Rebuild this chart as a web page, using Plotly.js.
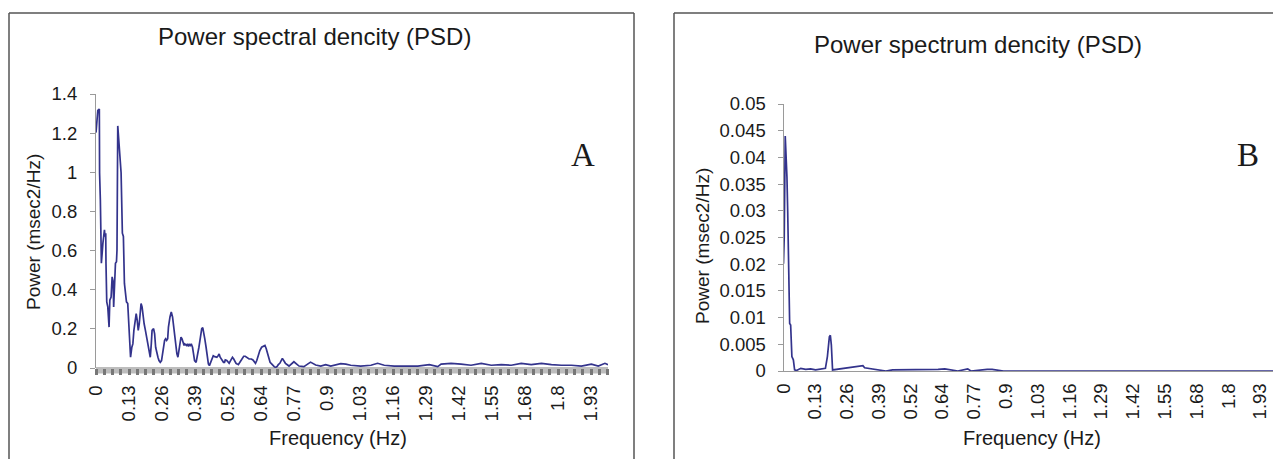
<!DOCTYPE html>
<html>
<head>
<meta charset="utf-8">
<script src="https://cdn.plot.ly/plotly-3.0.1.min.js"></script>
<style>
  html, body { margin: 0; padding: 0; background: #ffffff; }
  #chart { width: 1273px; height: 459px; }
</style>
</head>
<body>
<div id="chart"></div>
<script>
// ---------- DATA ----------
// Panel A : Power spectral dencity (PSD)
const freqA = [
  0, 0.003, 0.007, 0.010, 0.013, 0.014, 0.017, 0.021, 0.024, 0.027,
  0.030, 0.033, 0.035, 0.038, 0.039, 0.042, 0.046, 0.048, 0.051, 0.054,
  0.059, 0.063, 0.067, 0.069, 0.072, 0.076, 0.080, 0.082, 0.085, 0.089,
  0.093, 0.098, 0.103, 0.107, 0.111, 0.115, 0.119, 0.124, 0.128, 0.132,
  0.135, 0.140, 0.144, 0.148, 0.153, 0.157, 0.161, 0.165, 0.169, 0.172,
  0.176, 0.180, 0.184, 0.188, 0.193, 0.197, 0.202, 0.208, 0.212, 0.216,
  0.219, 0.225, 0.229, 0.233, 0.238, 0.242, 0.246, 0.251, 0.256, 0.260,
  0.264, 0.268, 0.272, 0.276, 0.280, 0.283, 0.289, 0.294, 0.299, 0.303,
  0.307, 0.311, 0.316, 0.320, 0.324, 0.328, 0.332, 0.336, 0.340, 0.344,
  0.347, 0.353, 0.357, 0.361, 0.364, 0.368, 0.372, 0.377, 0.381, 0.385,
  0.391, 0.394, 0.398, 0.402, 0.408, 0.413, 0.417, 0.421, 0.425, 0.430,
  0.434, 0.439, 0.443, 0.448, 0.453, 0.458, 0.464, 0.468, 0.472, 0.477,
  0.481, 0.485, 0.490, 0.494, 0.498, 0.502, 0.505, 0.511, 0.516, 0.520,
  0.524, 0.529, 0.533, 0.538, 0.542, 0.547, 0.551, 0.556, 0.562, 0.567,
  0.572, 0.577, 0.583, 0.588, 0.593, 0.598, 0.602, 0.607, 0.613, 0.618,
  0.623, 0.628, 0.633, 0.640, 0.647, 0.653, 0.660, 0.665, 0.670, 0.675,
  0.680, 0.686, 0.691, 0.696, 0.701, 0.707, 0.712, 0.718,
  0.728, 0.740, 0.754, 0.773, 0.793, 0.812, 0.838, 0.858, 0.878, 0.897,
  0.917, 0.956, 0.976, 0.995, 1.034, 1.074, 1.100, 1.126, 1.165, 1.204,
  1.257, 1.302, 1.335, 1.348, 1.387, 1.426, 1.465, 1.505, 1.544, 1.583,
  1.622, 1.661, 1.700, 1.740, 1.779, 1.818, 1.857, 1.896, 1.935, 1.962,
  1.988, 2.000
];
const powerA = [
  1.203, 1.263, 1.315, 1.320, 1.323, 0.998, 0.860, 0.535, 0.629, 0.638,
  0.672, 0.706, 0.672, 0.689, 0.535, 0.338, 0.312, 0.226, 0.209, 0.346,
  0.363, 0.466, 0.441, 0.312, 0.398, 0.535, 0.543, 0.603, 1.237, 1.169,
  1.118, 0.998, 0.689, 0.672, 0.432, 0.381, 0.338, 0.329, 0.243, 0.123,
  0.055, 0.106, 0.123, 0.192, 0.243, 0.278, 0.243, 0.192, 0.226, 0.261,
  0.329, 0.312, 0.261, 0.226, 0.192, 0.158, 0.123, 0.089, 0.055, 0.123,
  0.192, 0.201, 0.175, 0.106, 0.072, 0.055, 0.038, 0.029, 0.038, 0.072,
  0.123, 0.141, 0.149, 0.141, 0.149, 0.209, 0.261, 0.286, 0.261, 0.209,
  0.158, 0.106, 0.072, 0.055, 0.089, 0.123, 0.158, 0.149, 0.132, 0.115,
  0.123, 0.115, 0.123, 0.110, 0.123, 0.115, 0.123, 0.106, 0.072, 0.038,
  0.029, 0.046, 0.081, 0.106, 0.158, 0.201, 0.206, 0.183, 0.149, 0.106,
  0.055, 0.021, 0.012, 0.029, 0.055, 0.063, 0.058, 0.055, 0.055, 0.063,
  0.072, 0.055, 0.046, 0.038, 0.029, 0.029, 0.041, 0.038, 0.029, 0.024,
  0.034, 0.046, 0.055, 0.046, 0.034, 0.024, 0.021, 0.017, 0.029, 0.041,
  0.055, 0.060, 0.060, 0.055, 0.050, 0.046, 0.046, 0.046, 0.041, 0.029,
  0.024, 0.038, 0.063, 0.089, 0.106, 0.110, 0.115, 0.098, 0.072, 0.046,
  0.029, 0.021, 0.012, 0.007, 0.003, 0.007, 0.017, 0.024,
  0.049, 0.024, 0.010, 0.032, 0.010, 0.007, 0.030, 0.015, 0.010, 0.017,
  0.010, 0.022, 0.020, 0.014, 0.010, 0.014, 0.024, 0.014, 0.010, 0.010,
  0.010, 0.017, 0.007, 0.020, 0.024, 0.020, 0.014, 0.024, 0.014, 0.017,
  0.014, 0.024, 0.017, 0.024, 0.017, 0.014, 0.014, 0.010, 0.020, 0.010,
  0.024, 0.017
];

// Panel B : Power spectrum dencity (PSD)
const freqB = [
  0, 0.003, 0.007, 0.011, 0.014, 0.017, 0.020, 0.025, 0.029, 0.034,
  0.040, 0.045, 0.053, 0.070, 0.090, 0.110, 0.130, 0.150, 0.170, 0.178,
  0.186, 0.190, 0.194, 0.199, 0.216, 0.243, 0.269, 0.302, 0.322, 0.329,
  0.342, 0.362, 0.389, 0.415, 0.442, 0.494, 0.548, 0.574, 0.627, 0.654,
  0.680, 0.707, 0.747, 0.760, 0.826, 0.846, 0.892, 0.950, 1.200, 1.500,
  1.800, 2.000
];
const powerB = [
  0.0201, 0.0251, 0.0440, 0.0400, 0.0363, 0.0300, 0.0176, 0.0089, 0.0086, 0.0027,
  0.0021, 0.0002, 0.0001, 0.0005, 0.0003, 0.0004, 0.0002, 0.0003, 0.0005, 0.0027,
  0.0064, 0.0067, 0.0049, 0.0002, 0.0003, 0.0005, 0.0007, 0.0009, 0.0010, 0.0006,
  0.0005, 0.0003, 0.0002, 0.0000, 0.0002, 0.0002, 0.0002, 0.0003, 0.0003, 0.0004,
  0.0002, 0.0000, 0.0004, 0.0000, 0.0003, 0.0003, 0.0000, 0.0000, 0.0000, 0.0000,
  0.0000, 0.0000
];

// Tick labels (category-style axis, one label every 33/256 Hz)
const xTickVals = [0, 0.12890625, 0.2578125, 0.38671875, 0.515625, 0.64453125, 0.7734375,
  0.90234375, 1.03125, 1.16015625, 1.2890625, 1.41796875, 1.546875, 1.67578125, 1.8046875, 1.93359375];
const xTickText = ["0", "0.13", "0.26", "0.39", "0.52", "0.64", "0.77", "0.9", "1.03",
  "1.16", "1.29", "1.42", "1.55", "1.68", "1.8", "1.93"];
const yTickValsA = [0, 0.2, 0.4, 0.6, 0.8, 1.0, 1.2, 1.4];
const yTickTextA = ["0", "0.2", "0.4", "0.6", "0.8", "1", "1.2", "1.4"];
const yTickValsB = [0, 0.005, 0.01, 0.015, 0.02, 0.025, 0.03, 0.035, 0.04, 0.045, 0.05];
const yTickTextB = ["0", "0.005", "0.01", "0.015", "0.02", "0.025", "0.03", "0.035", "0.04", "0.045", "0.05"];

// ---------- LAYOUT HELPERS (pixel -> paper) ----------
const W = 1273, H = 459;
const px = v => v / W;
const py = v => (H - v) / H;

const FONT = "Liberation Sans, Arial, sans-serif";
const TXT = "#1a1a1a";
const LINE = "#33338c";
const AX = "#9a9a9a";

const traces = [
  { x: freqA, y: powerA, type: "scatter", mode: "lines", xaxis: "x", yaxis: "y",
    line: { color: LINE, width: 1.7 }, hoverinfo: "skip", showlegend: false },
  { x: freqB, y: powerB, type: "scatter", mode: "lines", xaxis: "x2", yaxis: "y2",
    line: { color: LINE, width: 1.7 }, hoverinfo: "skip", showlegend: false }
];

function ann(text, x, y, size, angle, family) {
  return { text: text, xref: "paper", yref: "paper", x: px(x), y: py(y),
    xanchor: "center", yanchor: "middle", textangle: angle || 0, showarrow: false,
    font: { family: family || FONT, size: size, color: TXT } };
}

const layout = {
  width: W, height: H,
  margin: { l: 0, r: 0, t: 0, b: 0 },
  paper_bgcolor: "#ffffff", plot_bgcolor: "#ffffff",
  showlegend: false,
  font: { family: FONT, color: TXT, size: 18 },
  xaxis: {
    domain: [px(96), px(608)], range: [0, 2.0], anchor: "y",
    tickmode: "array", tickvals: xTickVals, ticktext: xTickText, tickangle: -90,
    ticks: "outside", ticklen: 6, tickwidth: 3, tickcolor: "#777777",
    minor: { tickmode: "linear", tick0: 0, dtick: 0.0322265625, ticks: "outside",
             ticklen: 6, tickwidth: 3, tickcolor: "#777777", showgrid: false },
    showline: false, showgrid: false, zeroline: false, ticklabeloverflow: "allow",
    tickfont: { family: FONT, size: 18.5, color: TXT }, ticklabelstandoff: 3
  },
  yaxis: {
    domain: [py(368), py(94)], range: [0, 1.4], anchor: "x",
    tickmode: "array", tickvals: yTickValsA, ticktext: yTickTextA,
    ticks: "outside", ticklen: 5, tickwidth: 1, tickcolor: AX,
    showline: true, linecolor: AX, linewidth: 1,
    showgrid: false, zeroline: false,
    tickfont: { family: FONT, size: 18.5, color: TXT }, ticklabelstandoff: 9
  },
  xaxis2: {
    domain: [px(783.5), 1], range: [0, 1.985], anchor: "y2",
    tickmode: "array", tickvals: xTickVals, ticktext: xTickText, tickangle: -90,
    ticks: "", showline: true, linecolor: AX, linewidth: 1,
    showgrid: false, zeroline: false, ticklabeloverflow: "allow",
    tickfont: { family: FONT, size: 18.5, color: TXT }, ticklabelstandoff: 4
  },
  yaxis2: {
    domain: [py(371), py(104)], range: [0, 0.05], anchor: "x2",
    tickmode: "array", tickvals: yTickValsB, ticktext: yTickTextB,
    ticks: "outside", ticklen: 5, tickwidth: 1, tickcolor: AX,
    showline: true, linecolor: AX, linewidth: 1,
    showgrid: false, zeroline: false,
    tickfont: { family: FONT, size: 18.5, color: TXT }, ticklabelstandoff: 8
  },
  shapes: [
    // frame A
    { type: "line", xref: "paper", yref: "paper", x0: px(9), x1: px(9), y0: -0.02, y1: py(13), line: { color: "#555555", width: 1.5 } },
    { type: "line", xref: "paper", yref: "paper", x0: px(9), x1: px(634), y0: py(13), y1: py(13), line: { color: "#555555", width: 1.5 } },
    { type: "line", xref: "paper", yref: "paper", x0: px(634), x1: px(634), y0: -0.02, y1: py(13), line: { color: "#555555", width: 1.5 } },
    // frame B
    { type: "line", xref: "paper", yref: "paper", x0: px(674), x1: px(674), y0: -0.02, y1: py(13), line: { color: "#555555", width: 1.5 } },
    { type: "line", xref: "paper", yref: "paper", x0: px(674), x1: 1.01, y0: py(13), y1: py(13), line: { color: "#555555", width: 1.5 } },
    // category tick band of panel A
    { type: "rect", xref: "paper", yref: "paper", layer: "below", x0: px(96), x1: px(608), y0: py(373.5), y1: py(367), line: { width: 0 }, fillcolor: "#bdbdbd" }
  ],
  annotations: [
    ann("Power spectral dencity (PSD)", 314, 37, 24),
    ann("Power spectrum dencity (PSD)", 978, 45, 24),
    ann("Power (msec2/Hz)", 33, 232, 19, -90),
    ann("Power (msec2/Hz)", 702, 246, 19, -90),
    ann("Frequency (Hz)", 338, 438, 20),
    ann("Frequency (Hz)", 1032, 438, 20),
    ann("A", 583, 155, 33, 0, "Liberation Serif, Times New Roman, serif"),
    ann("B", 1248, 155, 33, 0, "Liberation Serif, Times New Roman, serif")
  ]
};

Plotly.newPlot("chart", traces, layout, { staticPlot: true, displayModeBar: false });
</script>
</body>
</html>
